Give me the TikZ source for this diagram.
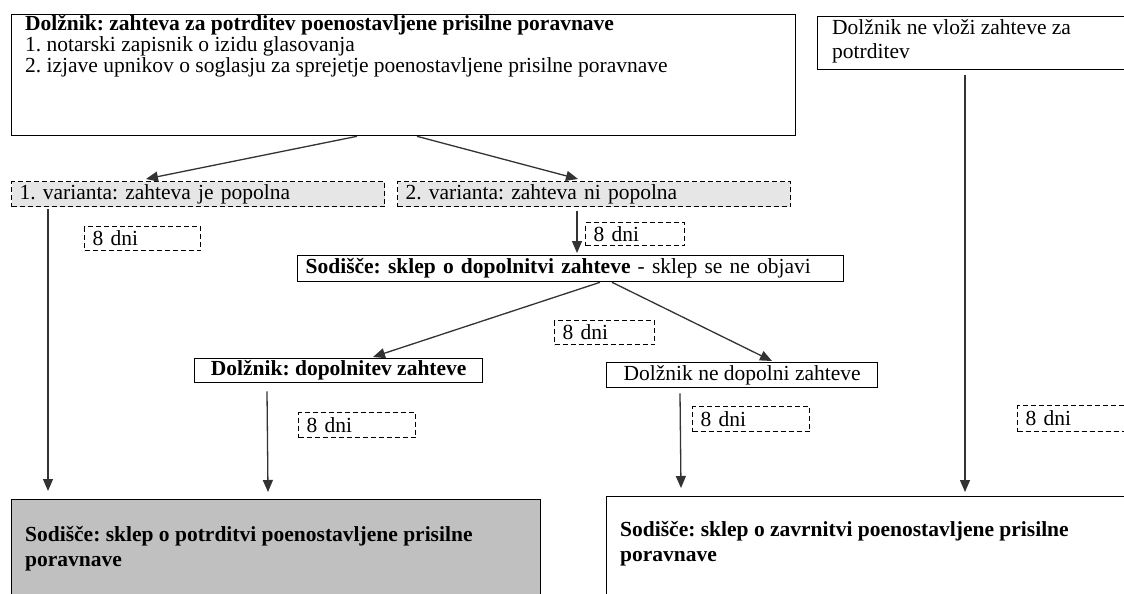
\documentclass[tikz,border=0pt]{standalone}
\usepackage{fontspec}
\setmainfont{Liberation Serif}
\usetikzlibrary{arrows.meta}
\definecolor{varfill}{HTML}{E6E6E6}
\definecolor{potrdfill}{HTML}{C0C0C0}
\frenchspacing
\begin{document}
\begin{tikzpicture}[x=1pt,y=-1pt,
  font=\fontsize{21.5}{21}\selectfont\frenchspacing,
  bx/.style={draw=black,line width=1.3pt,inner sep=0pt,anchor=north west},
  dbx/.style={bx,dashed,dash pattern=on 5pt off 3pt,line width=1.2pt},
  one/.style={inner xsep=8pt,align=left},
  lbl/.style={anchor=base west,inner sep=0pt},
  arr/.style={line width=1.3pt,draw=black!80,-{Triangle[length=12pt,width=10pt]}},
  ]
\useasboundingbox (0,0) rectangle (1124,594);
\fill[white] (0,0) rectangle (1124,594);

% top boxes
\node[bx,minimum width=784pt,minimum height=121pt] (top) at (11,14) {};
\node[lbl] (topa) at (25,31) {\textbf{Dolžnik: zahteva za potrditev poenostavljene prisilne poravnave}};
\node[lbl] (topb) at (25,52) {1. notarski zapisnik o izidu glasovanja};
\node[lbl] (topc) at (25,73) {2. izjave upnikov o soglasju za sprejetje poenostavljene prisilne poravnave};

\node[bx,minimum width=313pt,minimum height=53pt] (notfiled) at (817,16) {};
\node[lbl] (nfa) at (832,35) {Dolžnik ne vloži zahteve za};
\node[lbl] (nfb) at (832,59) {potrditev};

% variants
\node[dbx,one,fill=varfill,minimum height=25pt,text width=357pt] (var1) at (11,181) {1. varianta: zahteva je popolna};
\node[dbx,one,fill=varfill,minimum height=25pt,text width=377pt] (var2) at (397,181) {2. varianta: zahteva ni popolna};

% 8 dni boxes
\node[dbx,one,minimum height=24pt,text width=100pt] (d1) at (84,226) {8 dni};
\node[dbx,one,minimum height=23pt,text width=83pt] (d2) at (585,222) {8 dni};
\node[dbx,one,minimum height=24pt,text width=84pt] (d3) at (554,320) {8 dni};
\node[dbx,one,minimum height=25pt,text width=101pt] (d4) at (298,412) {8 dni};
\node[dbx,one,minimum height=25pt,text width=101pt] (d5) at (692,406) {8 dni};
\node[dbx,one,minimum height=26pt,text width=100pt] (d6) at (1017,405) {8 dni};

% court decision on supplement
\node[bx,one,minimum height=26pt,text width=530pt] (court1) at (297,255) {\textbf{Sodišče: sklep o dopolnitvi zahteve} - sklep se ne objavi};

\node[bx,minimum height=24pt,minimum width=288pt,align=center] (dop) at (194,358) {\textbf{Dolžnik: dopolnitev zahteve}};
\node[bx,minimum height=25pt,minimum width=271pt,align=center] (nedop) at (606,362) {Dolžnik ne dopolni zahteve};

% bottom boxes
\node[bx,fill=potrdfill,minimum width=529pt,minimum height=110pt] (potrd) at (11,499) {};
\node[lbl] (pa) at (25,541) {\textbf{Sodišče: sklep o potrditvi poenostavljene prisilne}};
\node[lbl] (pb) at (25,566) {\textbf{poravnave}};

\node[bx,minimum width=530pt,minimum height=110pt] (zavrn) at (606,496) {};
\node[lbl] (za) at (620,536) {\textbf{Sodišče: sklep o zavrnitvi poenostavljene prisilne}};
\node[lbl] (zb) at (620,561) {\textbf{poravnave}};

% connectors
\draw[arr] ([xshift=346pt]top.south west) -- ([xshift=135pt,yshift=2pt]var1.north west);
\draw[arr] ([xshift=406pt]top.south west) -- ([xshift=181pt,yshift=2pt]var2.north west);
\draw[arr] ([xshift=37pt,yshift=-2pt]var1.south west) -- ([xshift=37pt,yshift=8pt]potrd.north west);
\draw[arr] ([xshift=180pt,yshift=-4pt]var2.south west) -- ([xshift=280pt,yshift=2pt]court1.north west);
\draw[arr] ([xshift=303pt]court1.south west) -- ([xshift=179pt,yshift=1pt]dop.north west);
\draw[arr] ([xshift=315pt]court1.south west) -- ([xshift=166pt,yshift=1pt]nedop.north west);
\draw[arr] ([xshift=73pt,yshift=-8pt]dop.south west) -- ([xshift=257pt,yshift=7pt]potrd.north west);
\draw[arr] ([xshift=74pt,yshift=-5pt]nedop.south west) -- ([xshift=75pt,yshift=8pt]zavrn.north west);
\draw[arr] ([xshift=148pt,yshift=-5pt]notfiled.south west) -- ([xshift=359pt,yshift=4pt]zavrn.north west);
\end{tikzpicture}
\end{document}
